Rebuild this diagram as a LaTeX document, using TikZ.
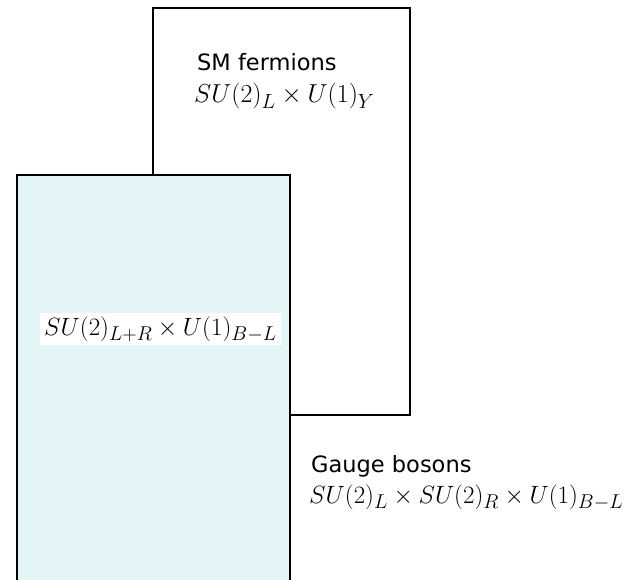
\documentclass[tikz,border=0pt]{standalone}
\usepackage{fix-cm}
\usepackage{fontspec}
\setmainfont{DejaVu Sans}
\DeclareMathSizes{25}{25}{20}{16}
\DeclareMathSizes{26}{26}{20.5}{16}
\definecolor{dotfill}{HTML}{E4F5F7}
\tikzset{
  box/.style={draw=black, line width=1.7pt},
  lbl/.style={anchor=base west, inner sep=0pt, font=\fontsize{22.5}{26}\selectfont},
  mth/.style={anchor=base west, inner sep=0pt, font=\fontsize{25}{30}\selectfont},
  mthbig/.style={anchor=base west, inner sep=0pt, font=\fontsize{26}{31}\selectfont},
}
\begin{document}
\begin{tikzpicture}[x=1pt,y=-1pt]
\useasboundingbox (0,0) rectangle (635,580);
\draw[box, fill=white] (153,8) rectangle (410,415);
\fill[dotfill] (17,175) rectangle (290,582);
\draw[box] (17,584) -- (17,175) -- (290,175) -- (290,584);
\node[lbl] (smt) at (197,71) {SM fermions};
\node[mthbig] (smm) at (194,103) {$SU(2)_L\times U(1)_Y$};
\node[mth, fill=white, inner xsep=4pt, inner ysep=3pt] (lr) at (40,335) {$SU(2)_{L+R}\times U(1)_{B-L}$};
\node[lbl] (gbt) at (311,472) {Gauge bosons};
\node[mth] (gbm) at (309,503) {$SU(2)_L\times SU(2)_R\times U(1)_{B-L}$};
\end{tikzpicture}
\end{document}
